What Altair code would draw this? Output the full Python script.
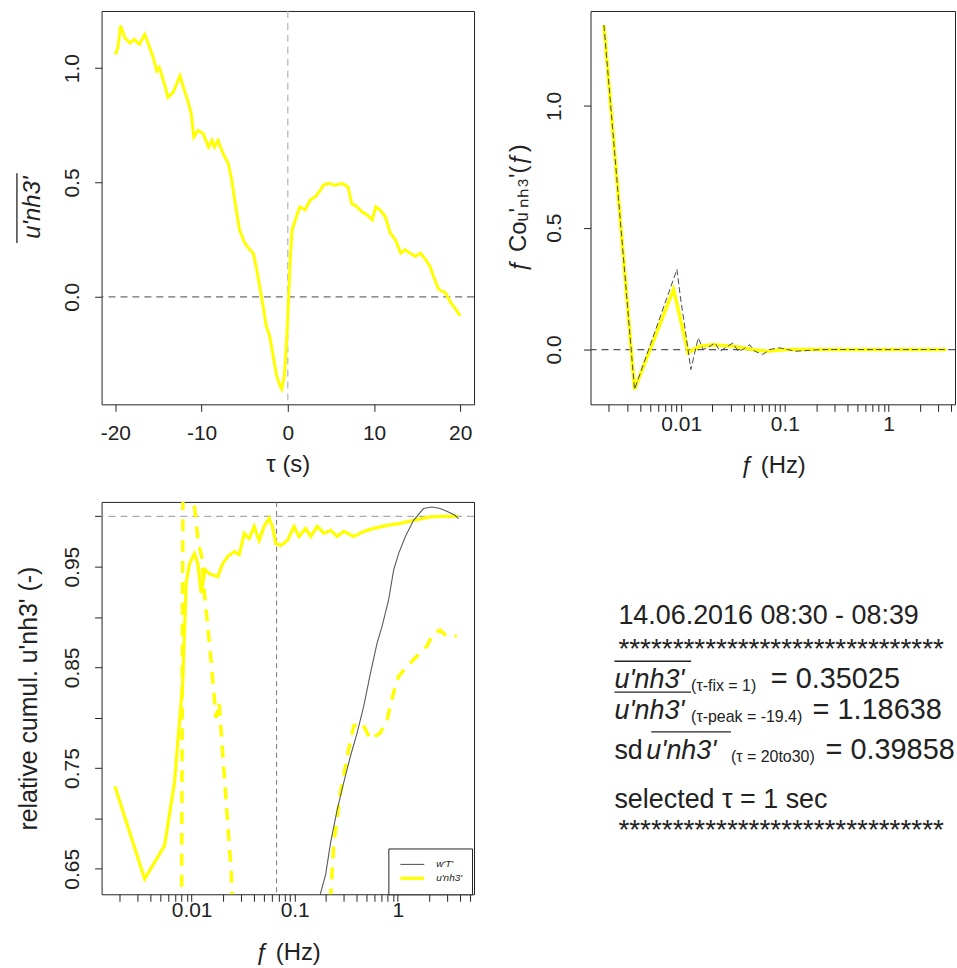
import altair as alt
import pandas as pd

FONT = "Liberation Sans"
YELLOW = "#ffff00"
GRAY = "#5a5a5a"
INK = "#222222"

# ---------------- top-left: covariance vs time lag ----------------
TAU = [-20.0, -19.7, -19.4, -18.9, -18.3, -17.8, -17.2, -16.6, -16.2, -15.6, -15.2, -14.9,
       -14.3, -13.9, -13.3, -12.5, -12.1, -11.6, -11.2, -10.9, -10.4, -9.8, -9.2, -8.8,
       -8.5, -8.1, -7.5, -6.9, -6.5, -6.1, -5.6, -5.0, -4.4, -4.0, -3.6, -3.2, -2.8, -2.5,
       -2.1, -1.7, -1.3, -0.9, -0.7, -0.4, -0.1, 0.1, 0.3, 0.5, 1.0, 1.4, 2.0, 2.6, 3.2,
       3.8, 4.1, 4.7, 5.5, 6.3, 7.0, 7.4, 8.0, 8.6, 9.2, 9.8, 10.2, 10.7, 11.3, 11.9, 12.5,
       13.1, 13.6, 14.2, 14.8, 15.4, 16.0, 16.5, 16.9, 17.5, 18.3, 18.9, 19.5, 20.0]
COV_NH3 = [1.06, 1.09, 1.186, 1.133, 1.11, 1.126, 1.104, 1.148, 1.11, 1.046, 0.988, 1.003,
           0.93, 0.872, 0.894, 0.967, 0.916, 0.858, 0.80, 0.699, 0.728, 0.713, 0.655, 0.684,
           0.655, 0.684, 0.626, 0.583, 0.51, 0.409, 0.293, 0.235, 0.206, 0.191, 0.119, 0.032,
           -0.055, -0.128, -0.171, -0.258, -0.345, -0.388, -0.403, -0.345, -0.171, 0.003,
           0.177, 0.293, 0.350, 0.394, 0.38, 0.423, 0.438, 0.467, 0.488, 0.496, 0.488, 0.496,
           0.481, 0.409, 0.394, 0.372, 0.358, 0.336, 0.394, 0.38, 0.351, 0.278, 0.249, 0.191,
           0.206, 0.191, 0.177, 0.191, 0.162, 0.133, 0.09, 0.032, 0.017, -0.026, -0.055, -0.084]
TAU_TICKS = [-20, -10, 0, 10, 20]
COV_TICKS = [0.0, 0.5, 1.0]
ZERO = [0.0]

# ---------------- top-right: normalised cospectra ----------------
F_CO_WT = [0.0018, 0.00355, 0.0091, 0.0098, 0.0107, 0.0124, 0.0146, 0.0163, 0.019, 0.0212,
           0.0236, 0.0273, 0.0316, 0.0353, 0.0394, 0.0457, 0.051, 0.0614, 0.0711, 0.0886,
           0.128, 0.23, 3.49]
CO_WT = [1.332, -0.164, 0.329, 0.219, 0.11, -0.082, 0.048, 0.0, 0.014, 0.027, -0.007, 0.01,
         0.027, -0.007, 0.0, 0.02, -0.007, -0.02, 0.0, 0.007, -0.007, 0.0, 0.0]
F_CO_NH3 = [0.0018, 0.00355, 0.00844, 0.0117, 0.0131, 0.0152, 0.0204, 0.0316, 0.049, 0.066,
            0.102, 0.23, 0.5, 1.0, 2.0, 3.6]
CO_NH3 = [1.332, -0.164, 0.247, -0.014, 0.0, 0.014, 0.02, 0.014, 0.0, -0.007, 0.0, 0.0, 0.0,
          0.0, 0.0, 0.0]
CO_TICKS = [0.0, 0.5, 1.0]

# ---------------- bottom-left: relative cumulative (ogives) ----------------
F_OG_WT = [0.1717, 0.1993, 0.2228, 0.2586, 0.2995, 0.3476, 0.4034, 0.4673, 0.5424, 0.6295,
           0.7037, 0.815, 0.911, 1.018, 1.182, 1.421, 1.776, 2.14, 2.576, 3.097, 3.597, 3.873]
OG_WT = [0.62, 0.644, 0.676, 0.709, 0.736, 0.762, 0.785, 0.8115, 0.844, 0.874, 0.8907, 0.917,
         0.9466, 0.963, 0.9797, 0.996, 1.0077, 1.0093, 1.0077, 1.0044, 1.001, 0.9978]
F_OG_NH3 = [0.0018, 0.0035, 0.00546, 0.00682, 0.0082, 0.00885, 0.00953, 0.01065, 0.01148,
            0.01236, 0.0135, 0.01486, 0.0179, 0.02, 0.0224, 0.0259, 0.029, 0.0324, 0.0362,
            0.0404, 0.0452, 0.0505, 0.0564, 0.0608, 0.0655, 0.0732, 0.0851, 0.0985, 0.110,
            0.1277, 0.1428, 0.1656, 0.192, 0.2228, 0.2583, 0.2994, 0.374, 0.4675, 0.584,
            0.786, 1.057, 1.42, 2.06, 2.77, 3.87]
OG_NH3 = [0.732, 0.640, 0.673, 0.736, 0.835, 0.934, 0.953, 0.963, 0.953, 0.924, 0.947, 0.943,
          0.940, 0.953, 0.960, 0.965, 0.962, 0.983, 0.978, 0.990, 0.976, 0.990, 0.998, 0.990,
          0.973, 0.971, 0.976, 0.990, 0.980, 0.988, 0.980, 0.990, 0.983, 0.986, 0.980, 0.985,
          0.980, 0.985, 0.988, 0.991, 0.993, 0.996, 0.9995, 1.0, 1.0]
F_OG_NH3_DASH = [0.0078, 0.0086, 0.0097, 0.01156, 0.0125, 0.0133, 0.01543, 0.01725, 0.01845,
                 0.02015, 0.0241, 0.0275, 0.19, 0.2397, 0.278, 0.3346, 0.374, 0.451, 0.5424,
                 0.6776, 0.787, 0.911, 1.018, 1.227, 1.532, 1.915, 2.218, 2.575, 2.986, 3.73]
OG_NH3_DASH = [0.30, 1.60, 1.05, 0.975, 0.960, 0.924, 0.857, 0.800, 0.815, 0.760, 0.650, 0.50,
               0.50, 0.676, 0.726, 0.769, 0.792, 0.795, 0.7785, 0.785, 0.798, 0.825, 0.841,
               0.851, 0.861, 0.871, 0.884, 0.887, 0.881, 0.881]
OG_TICKS = [0.65, 0.7, 0.75, 0.8, 0.85, 0.9, 0.95, 1.0]
OG_LABELED = [0.65, 0.75, 0.85, 0.95]
ONE = [1.0]
F_SELECTED = [0.0667]

SERIES = ["w'T'", "u'nh3'"]

LOG_TICKS = [0.002, 0.003, 0.004, 0.005, 0.006, 0.007, 0.008, 0.009,
             0.01, 0.02, 0.03, 0.04, 0.05, 0.06, 0.07, 0.08, 0.09,
             0.1, 0.2, 0.3, 0.4, 0.5, 0.6, 0.7, 0.8, 0.9,
             1, 2, 3, 4, 5]
LOG_LABELED = [0.01, 0.1, 1]
LOG_LABELS = ["0.01", "0.1", "1"]

VAR = "u'nh3'"

log_label_expr = " : ".join(
    f"datum.value == {v} ? '{t}'" for v, t in zip(LOG_LABELED, LOG_LABELS)) + " : ''"
og_label_expr = ("indexof([" + ",".join(str(v) for v in OG_LABELED) +
                 "], datum.value) >= 0 ? format(datum.value, '.2f') : ''")
hyphen_expr = "replace(datum.label, '\u2212', '-')"


def txt(t, x, y, size, style="normal", angle=0, align="left", clip=False):
    kw = dict(align=align, baseline="alphabetic", font=FONT, fontSize=size, fontStyle=style,
              color=INK)
    if angle:
        kw["angle"] = angle
    if clip:
        kw["clip"] = True
    return alt.Chart(pd.DataFrame({"t": [t]})).mark_text(**kw).encode(
        text="t:N", x=alt.value(x), y=alt.value(y))


def bar_over(x1, x2, y1, y2):
    return alt.Chart(pd.DataFrame({"t": [0]})).mark_rule(color=INK, strokeWidth=1.3).encode(
        x=alt.value(x1), x2=alt.value(x2), y=alt.value(y1), y2=alt.value(y2))


# ================= panel A =================
xa = alt.Scale(domain=[-21.6, 21.6], nice=False, zero=False)
ya = alt.Scale(domain=[-0.47, 1.25], nice=False, zero=False)
ax_xa = alt.Axis(values=TAU_TICKS, labelExpr=hyphen_expr, title="τ (s)", labelPadding=11,
                 titlePadding=9)
ax_ya = alt.Axis(values=COV_TICKS, format=".1f", title=None, labelAngle=270, labelPadding=12)
df_a = pd.DataFrame({"tau": TAU, "cov": COV_NH3})

a_h = alt.Chart(pd.DataFrame({"v": ZERO})).mark_rule(
    color="#6e6e6e", strokeDash=[7, 5], strokeWidth=1.2).encode(
    y=alt.Y("v:Q", scale=ya, axis=ax_ya))
a_v = alt.Chart(pd.DataFrame({"v": ZERO})).mark_rule(
    color="#b4b4b4", strokeDash=[7, 5], strokeWidth=1.2).encode(
    x=alt.X("v:Q", scale=xa, axis=ax_xa))
a_line = alt.Chart(df_a).mark_line(color=YELLOW, strokeWidth=3, clip=True).encode(
    x=alt.X("tau:Q", scale=xa, axis=ax_xa),
    y=alt.Y("cov:Q", scale=ya, axis=ax_ya),
    order="tau:Q")
a_title = txt(VAR, -62, 197.5, 24, "italic", angle=270, align="center")
a_bar = bar_over(-85, -85, 163, 233)
panel_a = alt.layer(a_h, a_v, a_line, a_title, a_bar).properties(width=374, height=395)

# ================= panel B =================
xb = alt.Scale(type="log", domain=[0.001337, 4.365], nice=False)
yb = alt.Scale(domain=[-0.225, 1.39], nice=False, zero=False)
ax_xb = alt.Axis(values=LOG_TICKS, labelExpr=log_label_expr, labelOverlap=False,
                 title="ƒ (Hz)", labelPadding=2, titlePadding=19)
ax_yb = alt.Axis(values=CO_TICKS, format=".1f", title="ƒ Coᵤ'ₙₕ₃'(ƒ)",
                 labelAngle=270, labelPadding=19, titlePadding=13)
df_b_wt = pd.DataFrame({"f": F_CO_WT, "co": CO_WT})
df_b_nh3 = pd.DataFrame({"f": F_CO_NH3, "co": CO_NH3})

b_h = alt.Chart(pd.DataFrame({"v": ZERO})).mark_rule(
    color="#555555", strokeDash=[7, 5], strokeWidth=1.2).encode(
    y=alt.Y("v:Q", scale=yb, axis=ax_yb))
b_nh3 = alt.Chart(df_b_nh3).mark_line(color=YELLOW, strokeWidth=3.5, clip=True).encode(
    x=alt.X("f:Q", scale=xb, axis=ax_xb),
    y=alt.Y("co:Q", scale=yb, axis=ax_yb),
    order="f:Q")
b_wt = alt.Chart(df_b_wt).mark_line(color="#4a4a4a", strokeWidth=1, strokeDash=[6, 3],
                                    clip=True).encode(
    x=alt.X("f:Q", scale=xb, axis=ax_xb),
    y=alt.Y("co:Q", scale=yb, axis=ax_yb), order="f:Q")
panel_b = alt.layer(b_h, b_nh3, b_wt).properties(width=366, height=395)

# ================= panel C =================
xc = alt.Scale(type="log", domain=[0.001337, 5.49], nice=False)
yc = alt.Scale(domain=[0.6247, 1.0143], nice=False, zero=False)
ax_xc = alt.Axis(values=LOG_TICKS, labelExpr=log_label_expr, labelOverlap=False,
                 title="ƒ (Hz)", labelPadding=-2, titlePadding=20)
ax_yc = alt.Axis(values=OG_TICKS, labelExpr=og_label_expr, labelOverlap=False,
                 title="relative cumul. u'nh3' (-)", titleFontSize=25, labelAngle=270,
                 labelPadding=12, titlePadding=20)
df_c = pd.concat([
    pd.DataFrame({"f": F_OG_NH3, "og": OG_NH3, "series": SERIES[1]}),
    pd.DataFrame({"f": F_OG_WT, "og": OG_WT, "series": SERIES[0]}),
], ignore_index=True)
df_c_dash = pd.DataFrame({"f": F_OG_NH3_DASH, "og": OG_NH3_DASH})

c_h = alt.Chart(pd.DataFrame({"v": ONE})).mark_rule(
    color="#a8a8b4", strokeDash=[7, 5], strokeWidth=1.4).encode(
    y=alt.Y("v:Q", scale=yc, axis=ax_yc))
c_v = alt.Chart(pd.DataFrame({"v": F_SELECTED})).mark_rule(
    color="#777777", strokeDash=[5, 4], strokeWidth=1).encode(
    x=alt.X("v:Q", scale=xc, axis=ax_xc))
c_dash = alt.Chart(df_c_dash).mark_line(
    color=YELLOW, strokeWidth=3.5, strokeDash=[12, 9], clip=True).encode(
    x=alt.X("f:Q", scale=xc, axis=ax_xc),
    y=alt.Y("og:Q", scale=yc, axis=ax_yc), order="f:Q")
leg = dict(orient="none", legendX=288, legendY=841, title=None, strokeColor=INK,
           fillColor="white", padding=9, labelFontSize=10, labelFontStyle="italic",
           labelColor=INK, symbolType="M-2,0H2", symbolSize=144, symbolOffset=7,
           rowPadding=1, labelOffset=16)
c_lines = alt.Chart(df_c).mark_line(clip=True).encode(
    x=alt.X("f:Q", scale=xc, axis=ax_xc),
    y=alt.Y("og:Q", scale=yc, axis=ax_yc),
    color=alt.Color("series:N", scale=alt.Scale(domain=SERIES, range=[GRAY, YELLOW]),
                    legend=alt.Legend(**leg)),
    strokeWidth=alt.StrokeWidth("series:N", scale=alt.Scale(domain=SERIES, range=[1.1, 3.2]),
                                legend=alt.Legend(**leg)),
    order="f:Q")
panel_c = alt.layer(c_h, c_v, c_dash, c_lines).properties(width=374, height=394)

# ================= panel D: text block =================
ASTER = "*" * 30
d_layers = [
    txt("14.06.2016 08:30 - 08:39", 137, 123, 27),
    txt(ASTER, 137, 157, 28),
    bar_over(133, 210, 160, 160),
    txt(VAR, 133, 187, 27, "italic"),
    txt("(τ-fix = 1)", 210, 190, 16),
    txt("= 0.35025", 290, 187, 29),
    bar_over(133, 210, 191, 191),
    txt(VAR, 133, 218, 27, "italic"),
    txt("(τ-peak = -19.4)", 210, 221, 16),
    txt("= 1.18638", 332, 218, 29, clip=True),
    txt("sd", 133, 258, 27),
    bar_over(170, 250, 231, 231),
    txt(VAR, 165, 258, 27, "italic"),
    txt("(τ = 20to30)", 250, 261, 16),
    txt("= 0.39858", 345, 258, 29, clip=True),
    txt("selected τ = 1 sec", 133, 307, 27),
    txt(ASTER, 137, 338, 28),
]
panel_d = alt.layer(*d_layers).properties(
    width=476, height=394, view=alt.ViewBackground(strokeOpacity=0))

top = alt.hconcat(panel_a, panel_b, spacing=30)
bottom = alt.hconcat(panel_c, panel_d, spacing=6)
chart = alt.vconcat(top, bottom, spacing=23).properties(
    padding={"left": 15, "top": 7, "right": 0, "bottom": 0}
).configure_view(stroke=INK, strokeWidth=1).configure_axis(
    labelFont=FONT, titleFont=FONT, labelFontSize=21, titleFontSize=24,
    labelColor=INK, titleColor=INK, tickColor=INK, domain=False, grid=False,
    tickSize=7, titleFontWeight="normal"
).configure_legend(labelFont=FONT)

chart.save("out.html", embed_options={"renderer": "svg", "actions": False})
